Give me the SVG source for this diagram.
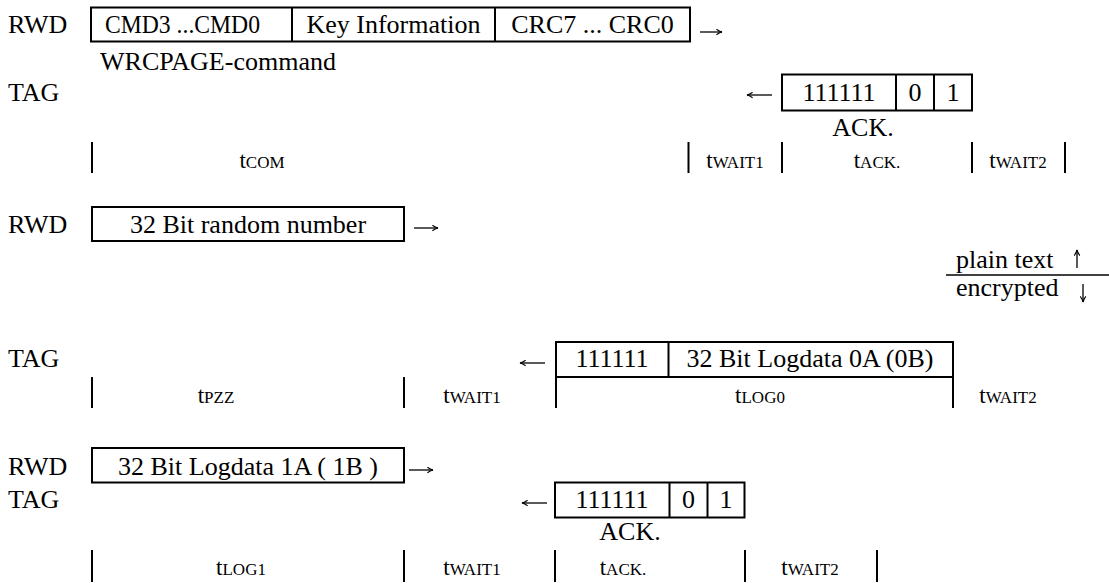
<svg xmlns="http://www.w3.org/2000/svg" width="1109" height="583" viewBox="0 0 1109 583">
<style>
.lbl{font-family:"Liberation Serif","Times New Roman",serif;font-size:26px;fill:#000}
.c{text-anchor:middle}
.t{font-family:"Liberation Serif","Times New Roman",serif;font-size:23px;fill:#000;text-anchor:middle}
.sub{font-size:17px}
.box{fill:none;stroke:#000;stroke-width:2}
.ln{stroke:#000;stroke-width:2;fill:none}
.ar{stroke:#000;stroke-width:1.3;fill:none;marker-end:url(#head)}
</style>
<defs>
<marker id="head" viewBox="0 0 10 10" refX="9" refY="5" markerWidth="7" markerHeight="7" markerUnits="userSpaceOnUse" orient="auto">
<path d="M1,1 Q5,4 9,5 Q5,6 1,9" fill="none" stroke="#000" stroke-width="1.6"/>
</marker>
</defs>
<rect width="1109" height="583" fill="#fff"/>

<g id="labels">
<text class="lbl" x="8" y="33">RWD</text>
<text class="lbl" x="100" y="70">WRCPAGE-command</text>
<text class="lbl" x="8" y="101">TAG</text>
<text class="lbl" x="8" y="233">RWD</text>
<text class="lbl" x="8" y="367">TAG</text>
<text class="lbl" x="8" y="475">RWD</text>
<text class="lbl" x="8" y="508">TAG</text>
</g>

<g id="node-wrcpage">
<rect class="box" x="91" y="7.5" width="599" height="34"/>
<line class="ln" x1="292" y1="7.5" x2="292" y2="41.5"/>
<line class="ln" x1="495" y1="7.5" x2="495" y2="41.5"/>
<text class="lbl" x="105" y="33" textLength="155" lengthAdjust="spacingAndGlyphs">CMD3 ...CMD0</text>
<text class="lbl c" x="393.5" y="33">Key Information</text>
<text class="lbl c" x="592.5" y="33">CRC7 ... CRC0</text>
</g>

<g id="node-ack1">
<rect class="box" x="782" y="74.5" width="190" height="36"/>
<line class="ln" x1="896" y1="74.5" x2="896" y2="110.5"/>
<line class="ln" x1="934" y1="74.5" x2="934" y2="110.5"/>
<text class="lbl c" x="839" y="101">111111</text>
<text class="lbl c" x="915" y="101">0</text>
<text class="lbl c" x="953" y="101">1</text>
<text class="lbl c" x="863" y="136">ACK.</text>
</g>

<g id="timing1">
<line class="ln" x1="92" y1="142" x2="92" y2="173"/>
<line class="ln" x1="688.5" y1="142" x2="688.5" y2="173"/>
<line class="ln" x1="782" y1="142" x2="782" y2="173"/>
<line class="ln" x1="972" y1="142" x2="972" y2="173"/>
<line class="ln" x1="1065" y1="142" x2="1065" y2="173"/>
<text class="t" x="262" y="168">t<tspan class="sub">COM</tspan></text>
<text class="t" x="735" y="168">t<tspan class="sub">WAIT1</tspan></text>
<text class="t" x="877" y="168">t<tspan class="sub">ACK.</tspan></text>
<text class="t" x="1018" y="168">t<tspan class="sub">WAIT2</tspan></text>
</g>

<g id="node-random">
<rect class="box" x="92" y="207" width="312" height="34"/>
<text class="lbl c" x="248" y="233">32 Bit random number</text>
</g>

<g id="node-plain">
<text class="lbl" x="956" y="268">plain text</text>
<text class="lbl" x="956" y="296">encrypted</text>
<line class="ln" x1="946" y1="275" x2="1109" y2="275" style="stroke-width:1.5"/>
</g>

<g id="node-logdata0">
<rect class="box" x="556" y="342" width="397" height="35"/>
<line class="ln" x1="668.5" y1="342" x2="668.5" y2="377"/>
<text class="lbl c" x="612" y="367">111111</text>
<text class="lbl c" x="810" y="367">32 Bit Logdata 0A (0B)</text>
</g>

<g id="timing3">
<line class="ln" x1="92" y1="377" x2="92" y2="408"/>
<line class="ln" x1="404" y1="377" x2="404" y2="408"/>
<line class="ln" x1="556" y1="377" x2="556" y2="408"/>
<line class="ln" x1="953" y1="377" x2="953" y2="408"/>
<text class="t" x="216" y="403">t<tspan class="sub">PZZ</tspan></text>
<text class="t" x="472" y="403">t<tspan class="sub">WAIT1</tspan></text>
<text class="t" x="760" y="403">t<tspan class="sub">LOG0</tspan></text>
<text class="t" x="1008" y="403">t<tspan class="sub">WAIT2</tspan></text>
</g>

<g id="node-logdata1">
<rect class="box" x="92" y="448" width="312" height="34.5"/>
<text class="lbl c" x="248" y="475">32 Bit Logdata 1A ( 1B )</text>
</g>

<g id="node-ack2">
<rect class="box" x="555" y="482.5" width="189.5" height="35"/>
<line class="ln" x1="669.5" y1="482.5" x2="669.5" y2="517.5"/>
<line class="ln" x1="707.5" y1="482.5" x2="707.5" y2="517.5"/>
<text class="lbl c" x="612" y="508">111111</text>
<text class="lbl c" x="688.5" y="508">0</text>
<text class="lbl c" x="726" y="508">1</text>
<text class="lbl c" x="630" y="540">ACK.</text>
</g>

<g id="timing4">
<line class="ln" x1="92" y1="550" x2="92" y2="582"/>
<line class="ln" x1="404" y1="550" x2="404" y2="582"/>
<line class="ln" x1="555" y1="550" x2="555" y2="582"/>
<line class="ln" x1="745" y1="550" x2="745" y2="582"/>
<line class="ln" x1="877" y1="550" x2="877" y2="582"/>
<text class="t" x="241" y="575">t<tspan class="sub">LOG1</tspan></text>
<text class="t" x="472" y="575">t<tspan class="sub">WAIT1</tspan></text>
<text class="t" x="623" y="575">t<tspan class="sub">ACK.</tspan></text>
<text class="t" x="810" y="575">t<tspan class="sub">WAIT2</tspan></text>
</g>

<g id="connectors">
<path class="ar" d="M700,32 H722"/>
<path class="ar" d="M772,95 H747"/>
<path class="ar" d="M414,228 H438"/>
<path class="ar" d="M1077,268 V250"/>
<path class="ar" d="M1083,284 V302"/>
<path class="ar" d="M545,363 H520"/>
<path class="ar" d="M409,470 H433"/>
<path class="ar" d="M547,503 H522"/>
</g>
</svg>
